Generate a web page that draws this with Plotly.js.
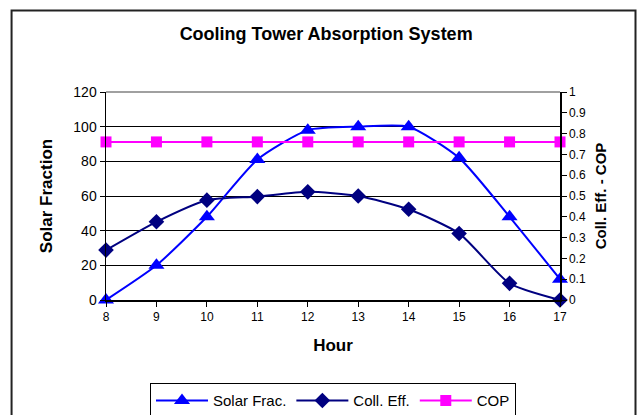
<!DOCTYPE html>
<html><head><meta charset="utf-8">
<script src="https://cdn.plot.ly/plotly-3.0.1.min.js"></script>
<style>html,body{margin:0;padding:0;background:#fff}#c{width:642px;height:415px}</style>
</head><body><div id="c"></div>
<script>
const hours = [8, 9, 10, 11, 12, 13, 14, 15, 16, 17];
const solarFrac = [0, 20, 48, 81, 98, 100, 100, 82, 48, 12];
const collEff = [0.24, 0.376, 0.48, 0.497, 0.52, 0.5, 0.436, 0.32, 0.08, 0];
const cop = [0.76, 0.76, 0.76, 0.76, 0.76, 0.76, 0.76, 0.76, 0.76, 0.76];

const F = 'Liberation Sans, Arial, sans-serif';
const traces = [
  {x: hours, y: solarFrac, name: 'Solar Frac.', type: 'scatter', mode: 'lines+markers', yaxis: 'y',
   line: {color: '#0000FF', width: 2, shape: 'spline', smoothing: 0.6},
   marker: {symbol: 'triangle-up', size: 14, color: '#0000FF'}, cliponaxis: false},
  {x: hours, y: collEff, name: 'Coll. Eff.', type: 'scatter', mode: 'lines+markers', yaxis: 'y2',
   line: {color: '#000080', width: 2, shape: 'spline', smoothing: 0.6},
   marker: {symbol: 'diamond', size: 12, color: '#000080'}, cliponaxis: false},
  {x: hours, y: cop, name: 'COP', type: 'scatter', mode: 'lines+markers', yaxis: 'y2',
   line: {color: '#FF00FF', width: 2},
   marker: {symbol: 'square', size: 11, color: '#FF00FF'}, cliponaxis: false}
];

const layout = {
  width: 642, height: 415,
  margin: {l: 106, r: 82, t: 92, b: 115, autoexpand: false},
  paper_bgcolor: '#fff', plot_bgcolor: '#fff',
  font: {family: F, color: '#000'},
  title: {text: '<b>Cooling Tower Absorption System</b>', font: {size: 18, family: F, color: '#000'},
          x: 0.508, xanchor: 'center', y: 0.92, yanchor: 'middle', xref: 'container'},
  showlegend: true,
  legend: {orientation: 'h', x: 0.5, xanchor: 'center', y: -0.40, yanchor: 'top',
           bordercolor: '#000', borderwidth: 1, font: {size: 15, family: F},
           tracegroupgap: 0, itemwidth: 52},
  xaxis: {range: [8, 17], tickvals: hours, ticktext: hours.map(String), showgrid: false, zeroline: false,
          showline: true, linecolor: '#000', linewidth: 1.5, ticks: 'outside', ticklen: 5, tickcolor: '#000',
          tickfont: {size: 12, family: F}, fixedrange: true,
          title: {text: '<b>Hour</b>', font: {size: 17, family: F}, standoff: 16}},
  yaxis: {range: [0, 120], dtick: 20, tick0: 0, showgrid: true, gridcolor: '#000', gridwidth: 1, zeroline: false,
          showline: true, linecolor: '#000', linewidth: 1.5, ticks: 'outside', ticklen: 5, tickcolor: '#000',
          tickfont: {size: 14, family: F},
          title: {text: '<b>Solar Fraction</b>', font: {size: 17, family: F}, standoff: 16}},
  yaxis2: {range: [0, 1], dtick: 0.1, tick0: 0, overlaying: 'y', side: 'right', showgrid: false, zeroline: false,
          showline: true, linecolor: '#000', linewidth: 1.5, ticks: 'outside', ticklen: 5, tickcolor: '#000',
          tickfont: {size: 12, family: F},
          title: {text: '<b>Coll. Eff. - COP</b>', font: {size: 15, family: F}, standoff: 10}},
  shapes: [
    {type: 'line', xref: 'paper', yref: 'paper', x0: 0, x1: 1, y0: 1, y1: 1, line: {color: '#808080', width: 1.5}},
    {type: 'rect', xref: 'paper', yref: 'paper', x0: -0.208, x1: 1.1663, y0: -0.6, y1: 1.392,
     line: {color: '#222', width: 2}, layer: 'above'}
  ]
};
Plotly.newPlot('c', traces, layout, {displayModeBar: false, staticPlot: true});
</script></body></html>
